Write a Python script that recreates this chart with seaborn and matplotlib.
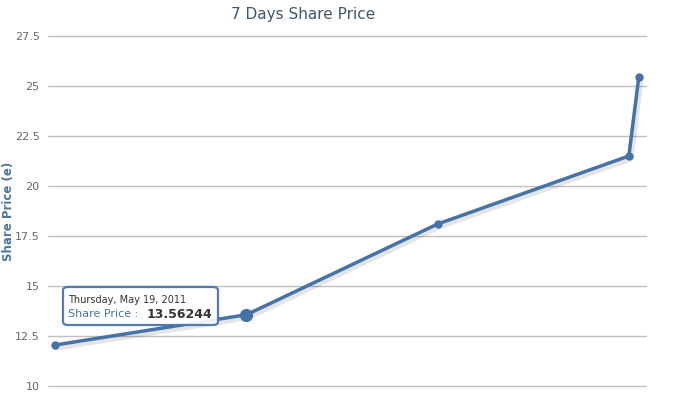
import matplotlib
matplotlib.use("Agg")
import matplotlib.pyplot as plt
import matplotlib.patheffects as pe
from matplotlib.patches import FancyBboxPatch
import seaborn as sns
import pandas as pd
import numpy as np

# ---- data ----
dates = ["2011-05-17 00:00", "2011-05-19 00:00", "2011-05-21 00:00",
         "2011-05-23 00:00", "2011-05-23 02:30"]
prices = [12.05, 13.56244, 18.10, 21.50, 25.45]
y_ticks = [10, 12.5, 15, 17.5, 20, 22.5, 25, 27.5]
y_tick_labels = ["10", "12.5", "15", "17.5", "20", "22.5", "25", "27.5"]
title = "7 Days Share Price"
y_label = "Share Price (e)"
series_name = "Share Price"
hover_index = 1

df = pd.DataFrame({"date": pd.to_datetime(dates), "price": prices})

W, H = 681, 404
sns.set_style("white")
plt.rcParams["font.family"] = ["DejaVu Sans"]

fig = plt.figure(figsize=(W / 100, H / 100), dpi=100)
L, R, T, B = 48, 646, 36, 386
ax = fig.add_axes([L / W, (H - B) / H, (R - L) / W, (B - T) / H])

color = "#4572A7"
sns.lineplot(data=df, x="date", y="price", ax=ax, color=color, linewidth=2.5,
             zorder=3,
             path_effects=[pe.SimpleLineShadow(offset=(1, -1.5), shadow_color="black",
                                               alpha=0.10, linewidth=5), pe.Normal()])
sns.scatterplot(data=df, x="date", y="price", ax=ax, color=color, s=36,
                linewidth=0, zorder=4)
# hovered point
hp = df.iloc[[hover_index]]
sns.scatterplot(data=hp, x="date", y="price", ax=ax, color=color, s=90,
                linewidth=0, zorder=5)

ax.set_ylim(10, 27.5)
pad = pd.Timedelta(hours=1.8)
ax.set_xlim(df["date"].min() - pad, df["date"].max() + pad)
ax.set_yticks(y_ticks)
ax.set_yticklabels(y_tick_labels)
ax.set_xticks([])
ax.set_xlabel("")
ax.set_ylabel("")
ax.grid(axis="y", color="#c0c0c0", linewidth=1)
ax.grid(axis="x", visible=False)
for gl in ax.get_ygridlines():
    gl.set_clip_on(False)
for s in ax.spines.values():
    s.set_visible(False)
ax.tick_params(axis="y", length=0, pad=6, labelsize=8, labelcolor="#666666")

fig.text(303.5 / W, 1 - 15 / H, title, ha="center", va="center",
         fontsize=11, color="#3E576F")
fig.text(9 / W, 1 - 211 / H, y_label, ha="center", va="center", rotation=90,
         fontsize=8.5, fontweight="bold", color="#4D759E")

# tooltip
bx0, bx1, by0, by1 = 63, 218, 287, 325
box = FancyBboxPatch((bx0 / W, 1 - by1 / H), (bx1 - bx0) / W, (by1 - by0) / H,
                     boxstyle="round,pad=0,rounding_size=0.008",
                     transform=fig.transFigure, facecolor="white", alpha=0.92,
                     edgecolor=color, linewidth=1.6, zorder=10)
fig.add_artist(box)
d = df["date"].iloc[hover_index]
date_str = f"{d.strftime('%A')}, {d.strftime('%b')} {d.day}, {d.year}"
fig.text(68 / W, 1 - 300 / H, date_str, ha="left", va="center", fontsize=7,
         color="#333333", zorder=11)
fig.text(68 / W, 1 - 314 / H, f"{series_name} :", ha="left", va="center",
         fontsize=8, color="#4572A7", zorder=11)
fig.text(147 / W, 1 - 314 / H, f"{df['price'].iloc[hover_index]:.5f}", ha="left",
         va="center", fontsize=9, fontweight="bold", color="#333333", zorder=11)

fig.savefig("out.png", dpi=100)
